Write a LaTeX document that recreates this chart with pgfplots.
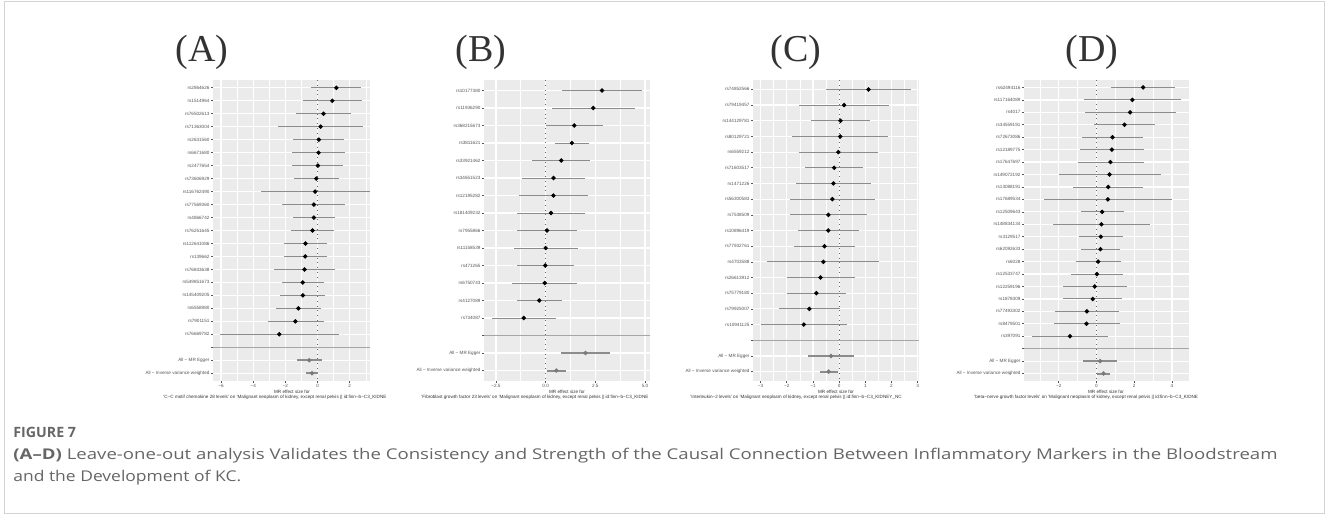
\documentclass[border=0pt]{standalone}
\usepackage{pgfplots}
\pgfplotsset{compat=1.18}
\usepackage{pgfplotstable}
\usepackage{graphicx}
\usepackage{fontspec}
\setmainfont{Liberation Sans}
\newfontfamily\serifA{Liberation Serif}
\newfontfamily\capfont{Open Sans}
\definecolor{panelbg}{HTML}{EBEBEB}
\definecolor{barc}{HTML}{8C8C8C}
\definecolor{sumc}{HTML}{7A7A7A}
\definecolor{labc}{HTML}{555555}
\definecolor{tickc}{HTML}{555555}
\definecolor{capc}{HTML}{666666}
\definecolor{framec}{HTML}{D4D4D4}
\newcommand\sm{\fontsize{2.3pt}{2.8pt}\selectfont}

\pgfplotstableread{
r b lo hi
1 1.17 -0.39 2.73
2 0.92 -0.92 2.76
3 0.375 -1.33 2.08
4 0.19 -2.44 2.82
5 0.08 -1.50 1.66
6 0.06 -1.60 1.72
7 0.02 -1.56 1.60
8 -0.08 -1.48 1.31
9 -0.15 -3.52 3.23
10 -0.23 -2.19 1.73
11 -0.23 -1.52 1.08
12 -0.31 -1.67 1.04
13 -0.75 -2.08 0.60
14 -0.77 -2.10 0.60
15 -0.81 -2.69 1.06
16 -0.92 -2.21 0.40
17 -0.92 -2.33 0.48
18 -1.19 -2.60 0.21
19 -1.38 -3.10 0.40
20 -2.38 -6.06 1.31
}\dataA
\pgfplotstableread{
r b lo hi
22 -0.52 -1.29 0.27
23 -0.35 -0.71 0.02
}\sumA
\pgfplotstableread{
r b lo hi
1 2.84 0.81 4.87
2 2.40 0.30 4.50
3 1.44 0.00 2.90
4 1.32 0.46 2.18
5 0.79 -0.68 2.25
6 0.40 -1.17 1.99
7 0.39 -1.36 2.15
8 0.27 -1.46 1.98
9 0.07 -1.44 1.57
10 0.00 -1.61 1.64
11 -0.02 -1.46 1.44
12 -0.04 -1.68 1.59
13 -0.32 -1.46 0.83
14 -1.10 -2.72 0.54
}\dataB
\pgfplotstableread{
r b lo hi
16 2.01 0.79 3.26
17 0.54 0.07 1.03
}\sumB
\pgfplotstableread{
r b lo hi
1 1.12 -0.50 2.76
2 0.19 -1.54 1.92
3 0.05 -1.08 1.19
4 0.04 -1.79 1.87
5 -0.03 -1.54 1.50
6 -0.19 -1.31 0.92
7 -0.22 -1.65 1.23
8 -0.26 -1.87 1.36
9 -0.41 -1.88 1.08
10 -0.42 -1.58 0.76
11 -0.56 -1.72 0.59
12 -0.60 -2.74 1.54
13 -0.71 -2.00 0.59
14 -0.87 -2.00 0.27
15 -1.14 -2.31 0.03
16 -1.35 -3.00 0.31
}\dataC
\pgfplotstableread{
r b lo hi
18 -0.31 -1.19 0.58
19 -0.40 -0.72 -0.05
}\sumC
\pgfplotstableread{
r b lo hi
1 2.47 0.77 4.18
2 1.90 -0.66 4.50
3 1.78 -0.62 4.20
4 1.48 -0.14 3.10
5 0.85 -0.76 2.47
6 0.81 -0.87 2.50
7 0.74 -0.99 2.50
8 0.69 -2.01 3.40
9 0.62 -1.24 2.45
10 0.60 -2.79 3.98
11 0.30 -0.83 1.44
12 0.26 -2.33 2.86
13 0.23 -0.92 1.41
14 0.21 -0.83 1.27
15 0.09 -1.09 1.30
16 0.02 -1.34 1.39
17 -0.09 -1.77 1.60
18 -0.20 -1.75 1.37
19 -0.51 -2.19 1.18
20 -0.53 -2.24 1.22
21 -1.40 -3.44 0.63
}\dataD
\pgfplotstableread{
r b lo hi
23 0.19 -0.72 1.11
24 0.37 0.00 0.74
}\sumD

\pgfplotsset{
  gg/.style={
    scale only axis, anchor=south west,
    axis background/.style={fill=panelbg},
    axis line style={draw=none},
    y dir=reverse,
    xmajorgrids, xminorgrids, ymajorgrids,
    major grid style={white, line width=0.6pt},
    minor grid style={white, line width=0.3pt},
    tick pos=left, tick align=outside,
    major tick length=1pt, minor tick length=0pt,
    tick style={draw=tickc, line width=0.3pt},
    ticklabel style={font=\sm, text=labc},
    xticklabel style={inner sep=0.5pt},
    yticklabel style={inner sep=0.6pt},
  },
  snp/.style={black, only marks, mark=*, mark size=0.9pt,
    error bars/.cd, x dir=both, x explicit, error mark=none,
    error bar style={barc, line width=0.45pt, solid}},
  summ/.style={sumc, only marks, mark=*, mark size=0.9pt,
    error bars/.cd, x dir=both, x explicit, error mark=none,
    error bar style={barc, line width=1pt, solid}},
  table/ebt/.style={x=b, y=r, x error plus expr=\thisrow{hi}-\thisrow{b}, x error minus expr=\thisrow{b}-\thisrow{lo}},
}

\begin{document}
\begin{tikzpicture}
\begin{scope}[x=0.5pt,y=0.5pt]
\path[use as bounding box, fill=white] (0,0) rectangle (1328,515);
\draw[framec, line width=0.5pt] (4,2) rectangle (1324,513);
\end{scope}

% Panel A
\begin{axis}[gg, at={(106.5pt,67pt)}, width=78.5pt, height=150.5pt,
  xmin=-6.5, xmax=3.26, ymin=0.4, ymax=23.6,
  xtick={-6,-4,-2,0,2}, xticklabels={−6,−4,−2,0,2}, minor xtick={-5,-3,-1,1,3},
  ytick={1,...,23},
  yticklabels={rs2864626,rs1514964,rs76502613,rs71363004,rs2631560,rs6671680,rs2477654,rs73606929,rs116762490,rs77569360,rs4866742,rs76251645,rs112641086,rs139662,rs76843638,rs549851673,rs145409205,rs6558980,rs7901151,rs76669782,{},All − MR Egger,All − Inverse variance weighted}]
\addplot[gray!70, line width=0.5pt, forget plot] coordinates {(-6.5,21) (3.26,21)};
\addplot[black!60, dotted, line width=0.4pt, forget plot] coordinates {(0,0.4) (0,23.6)};
\addplot[snp] table[ebt]{\dataA};
\addplot[summ] table[ebt]{\sumA};
\end{axis}

% Panel B
\begin{axis}[gg, at={(242pt,67pt)}, width=83pt, height=150.5pt,
  xmin=-3.1, xmax=5.25, ymin=0.4, ymax=17.6,
  xtick={-2.5,0,2.5,5}, xticklabels={−2.5,0.0,2.5,5.0}, minor xtick={-1.25,1.25,3.75},
  ytick={1,...,17},
  yticklabels={rs10177380,rs11936290,rs368215673,rs3811621,rs33921462,rs34651523,rs12195282,rs181409232,rs7955866,rs11158539,rs471265,rs6750743,rs4127089,rs734087,{},All − MR Egger,All − Inverse variance weighted}]
\addplot[gray!70, line width=0.5pt, forget plot] coordinates {(-3.1,15) (5.25,15)};
\addplot[black!60, dotted, line width=0.4pt, forget plot] coordinates {(0,0.4) (0,17.6)};
\addplot[snp] table[ebt]{\dataB};
\addplot[summ] table[ebt]{\sumB};
\end{axis}

% Panel C
\begin{axis}[gg, at={(376.5pt,67pt)}, width=83pt, height=150.5pt,
  xmin=-3.29, xmax=3.05, ymin=0.4, ymax=19.6,
  xtick={-3,-2,-1,0,1,2,3}, xticklabels={−3,−2,−1,0,1,2,3}, minor xtick={-2.5,-1.5,-0.5,0.5,1.5,2.5},
  ytick={1,...,19},
  yticklabels={rs74852566,rs79419457,rs144129781,rs80129721,rs6559212,rs71603517,rs1471226,rs56300583,rs7538509,rs10896419,rs77932761,rs4703588,rs26613912,rs75779180,rs79925007,rs10941125,{},All − MR Egger,All − Inverse variance weighted}]
\addplot[gray!70, line width=0.5pt, forget plot] coordinates {(-3.29,17) (3.05,17)};
\addplot[black!60, dotted, line width=0.4pt, forget plot] coordinates {(0,0.4) (0,19.6)};
\addplot[snp] table[ebt]{\dataC};
\addplot[summ] table[ebt]{\sumC};
\end{axis}

% Panel D
\begin{axis}[gg, at={(512pt,67pt)}, width=82.5pt, height=150.5pt,
  xmin=-3.84, xmax=4.9, ymin=0.4, ymax=24.6,
  xtick={-2,0,2,4}, xticklabels={−2,0,2,4}, minor xtick={-3,-1,1,3},
  ytick={1,...,24},
  yticklabels={rs62494116,rs117164089,rs4017,rs34559191,rs72673086,rs12189775,rs17647697,rs149072192,rs13088191,rs17689534,rs12509643,rs148834134,rs3129517,rs62092633,rs6028,rs12533747,rs12259196,rs1878309,rs77493302,rs8479501,rs397091,{},All − MR Egger,All − Inverse variance weighted}]
\addplot[gray!70, line width=0.5pt, forget plot] coordinates {(-3.84,22) (4.9,22)};
\addplot[black!60, dotted, line width=0.4pt, forget plot] coordinates {(0,0.4) (0,24.6)};
\addplot[snp] table[ebt]{\dataD};
\addplot[summ] table[ebt]{\sumD};
\end{axis}

\begin{scope}[x=0.5pt,y=0.5pt]
% x axis titles
\begin{scope}[every node/.style={font=\sm, text=black!80, inner sep=0pt}]
\node[anchor=center] at (292,515-392) {MR effect size for};
\node[anchor=west] at (163,515-397.5) {'C−C motif chemokine 28 levels' on 'Malignant neoplasm of kidney, except renal pelvis || id:finn−b−C3\_KIDNE};
\node[anchor=center] at (567,515-392) {MR effect size for};
\node[anchor=west] at (421,515-397.5) {'Fibroblast growth factor 23 levels' on 'Malignant neoplasm of kidney, except renal pelvis || id:finn−b−C3\_KIDNE};
\node[anchor=center] at (836,515-392) {MR effect size for};
\node[anchor=west] at (690,515-397.5) {'Interleukin−2 levels' on 'Malignant neoplasm of kidney, except renal pelvis || id:finn−b−C3\_KIDNEY\_NC};
\node[anchor=center] at (1106,515-392) {MR effect size for};
\node[anchor=west] at (974,515-397.5) {'beta−nerve growth factor levels' on 'Malignant neoplasm of kidney, except renal pelvis || id:finn−b−C3\_KIDNE};
\end{scope}

% panel letters
\begin{scope}[every node/.style={font=\serifA\fontsize{19pt}{22pt}\selectfont, text=black!80, anchor=base west, inner sep=0pt}]
\node at (175,515-62) {(A)};
\node at (455,515-62) {(B)};
\node at (770,515-62) {(C)};
\node at (1065,515-62) {(D)};
\end{scope}

% caption
\node[anchor=base west, inner sep=0pt, text=capc, font=\capfont\bfseries\fontsize{7.1pt}{9pt}\selectfont] at (13,515-437) {FIGURE 7};
\node[anchor=base west, inner sep=0pt, text=capc] at (13,515-459) {\resizebox{632pt}{\height}{\capfont\fontsize{7.4pt}{9pt}\selectfont\textbf{(A–D)} Leave-one-out analysis Validates the Consistency and Strength of the Causal Connection Between Inflammatory Markers in the Bloodstream}};
\node[anchor=base west, inner sep=0pt, text=capc] at (13,515-481) {\scalebox{1.18}[1]{\capfont\fontsize{7.4pt}{9pt}\selectfont and the Development of KC.}};
\end{scope}
\end{tikzpicture}
\end{document}
